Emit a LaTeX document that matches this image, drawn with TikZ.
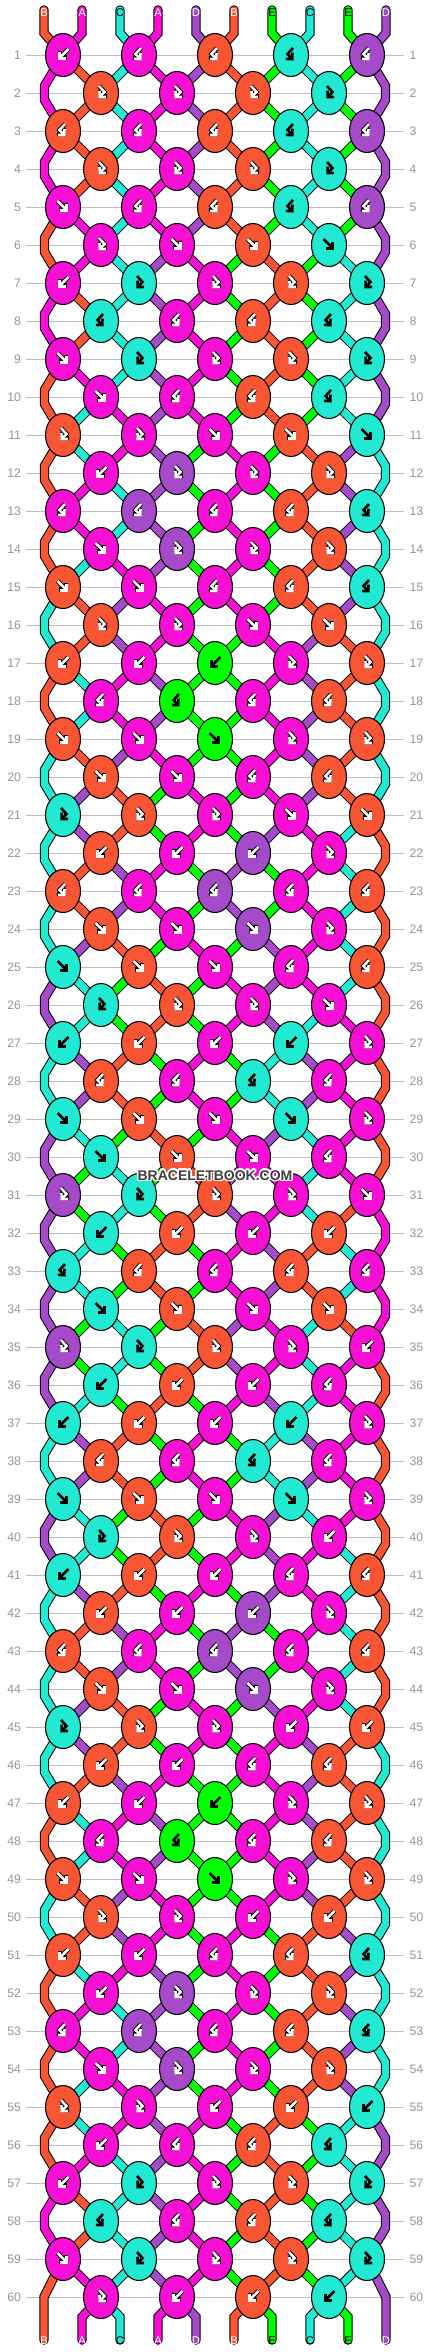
\documentclass[tikz,border=0pt]{standalone}
\usepackage{fontspec}
\setmainfont{Liberation Sans}
\usepackage[copies]{contour}
\usetikzlibrary{shapes.geometric,arrows.meta}

\definecolor{kno}{RGB}{247,85,51}
\definecolor{knm}{RGB}{247,15,213}
\definecolor{knc}{RGB}{34,234,210}
\definecolor{knp}{RGB}{165,74,200}
\definecolor{kng}{RGB}{0,255,0}
\definecolor{rowgray}{RGB}{190,190,190}
\definecolor{numgray}{RGB}{150,150,150}
\definecolor{markgray}{RGB}{64,64,64}

\newcommand\setst[2]{\expandafter\xdef\csname st@#1\endcsname{#2}}
\newcommand\getst[1]{\csname st@#1\endcsname}
\newcommand\seth[2]{\expandafter\xdef\csname hd@#1\endcsname{#2}}
\newcommand\geth[1]{\csname hd@#1\endcsname}

\tikzset{every picture/.style={line width=0.75pt}}
\tikzset{
  knot/.style={ellipse, draw=black, line width=0.8pt, minimum width=26.25pt, minimum height=32.25pt, inner sep=0pt},
  strand/.style={line width=5.6pt, line cap=round, preaction={draw=black, line width=7.1pt, line cap=round}},
  rowline/.style={draw=rowgray, line width=0.75pt, shorten <=3.4pt, shorten >=3.75pt},
  rownum/.style={text=numgray, font=\fontsize{9.2}{10}\selectfont, inner sep=0pt},
  endlabel/.style={font=\fontsize{8.4}{9}\selectfont, inner sep=0pt},
  arrw/.style={draw=white, line width=1.9pt, -{Straight Barb[length=3.4pt,width=6.8pt]}, preaction={draw=black, line width=3.3pt, -{Straight Barb[length=3.4pt,width=6.8pt]}}},
  arrb/.style={draw=black, line width=2pt, -{Straight Barb[length=3.4pt,width=6.8pt]}},
}

\begin{document}
\begin{tikzpicture}[x=0.75pt,y=0.75pt,yscale=-1,xscale=1]
    \useasboundingbox (0,0) rectangle (430,2352);
    \fill[white] (0,0) rectangle (430,2352);

    % row numbers, guide lines, edge bends
    \foreach \r in {1,...,60}{
      \node[rownum, anchor=east] (numl-\r) at (21.5,38*\r+17) {\r};
      \node[rownum, anchor=west] (numr-\r) at (409,38*\r+17) {\r};
      \draw[rowline] (numl-\r) -- (numr-\r);
      \ifodd\r\relax\else
        \coordinate (el-\r-a) at (44.5,38*\r+10);
        \coordinate (el-\r-b) at (44.5,38*\r+24);
        \coordinate (er-\r-a) at (385.5,38*\r+10);
        \coordinate (er-\r-b) at (385.5,38*\r+24);
      \fi
    }

    % string ends
    \foreach \s [count=\a] in {o,m,c,m,p,o,g,c,g,p}{
      \setst{\a}{\s}
      \coordinate (top-\a) at (6+38*\a,10);
      \coordinate (topbend-\a) at (6+38*\a,33);
      \coordinate (bot-\a) at (6+38*\a,2340);
    }
    \coordinate (botbend-1) at (44,2297);
    \coordinate (botbend-10) at (386,2297);
    \foreach \a in {2,...,9}{\coordinate (botbend-\a) at (6+38*\a,2317);}

    % strings, row by row: f forward, b backward, F forward-backward, B backward-forward
    \foreach \codes [count=\r] in {{b,B,B,B,B},{F,F,F,F},{B,B,B,B,B},{F,F,F,F},{f,B,B,B,B},{F,f,f,f},
      {b,F,F,F,F},{B,B,B,B},{f,F,F,F,F},{f,B,B,B},{F,F,f,f,f},{b,F,F,F},
      {B,B,B,B,B},{f,F,F,F},{f,f,B,B,B},{F,F,f,f},{b,b,b,F,F},{B,B,B,B},
      {f,f,f,F,F},{f,f,B,B},{F,F,F,f,f},{b,b,b,F},{B,B,B,B,B},{f,f,f,F},
      {f,f,f,B,B},{F,F,F,f},{b,b,b,b,F},{B,B,B,B},{f,f,f,f,F},{f,f,f,B},
      {F,F,F,F,f},{b,b,b,b},{B,B,B,B,B},{f,f,f,f},{F,F,F,F,b},{b,b,b,B},
      {b,b,b,b,F},{B,B,B,B},{f,f,f,f,F},{F,F,F,b},{b,b,b,B,B},{b,b,b,F},
      {B,B,B,B,B},{f,f,f,F},{F,F,F,b,b},{b,b,B,B},{b,b,b,F,F},{B,B,B,B},
      {f,f,f,F,F},{F,F,b,b},{b,b,B,B,B},{b,F,F,F},{B,B,B,B,B},{f,F,F,F},
      {F,F,b,b,b},{b,B,B,B},{b,F,F,F,F},{B,B,B,B},{f,F,F,F,F},{F,b,b,b}}{
      \foreach \kt [count=\j] in \codes {
        \ifodd\r\relax
          \pgfmathtruncatemacro\pa{2*\j-1}\pgfmathsetmacro\kx{76*\j-13}
        \else
          \pgfmathtruncatemacro\pa{2*\j}\pgfmathsetmacro\kx{76*\j+25}
        \fi
        \pgfmathtruncatemacro\pb{\pa+1}
        \coordinate (c\r-\j) at (\kx,38*\r+17);
        \edef\clc{\getst{\pa}}\edef\crc{\getst{\pb}}
        \edef\kc{\if\kt f\clc\else\if\kt F\clc\else\crc\fi\fi}
        \edef\sw{\if\kt f1\else\if\kt b1\else0\fi\fi}
        \expandafter\xdef\csname kc@\r-\j\endcsname{\kc}
        \expandafter\xdef\csname kt@\r-\j\endcsname{\kt}
        \edef\tmp{\noexpand\colorlet{lcol}{kn\clc}\noexpand\colorlet{rcol}{kn\crc}}\tmp
        \ifnum\r=1
          \draw[strand, draw=lcol] (top-\pa) -- (topbend-\pa) -- (c\r-\j);
          \draw[strand, draw=rcol] (top-\pb) -- (topbend-\pb) -- (c\r-\j);
        \else
          \pgfmathtruncatemacro\rprev{\r-1}
          \edef\srcl{\geth{\pa}}\edef\srcr{\geth{\pb}}
          \ifnum\pa=1
            \draw[strand, draw=lcol] (\srcl) -- (el-\rprev-a) -- (el-\rprev-b) -- (c\r-\j);
          \else
            \draw[strand, draw=lcol] (\srcl) -- (c\r-\j);
          \fi
          \ifnum\pb=10
            \draw[strand, draw=rcol] (\srcr) -- (er-\rprev-a) -- (er-\rprev-b) -- (c\r-\j);
          \else
            \draw[strand, draw=rcol] (\srcr) -- (c\r-\j);
          \fi
        \fi
        \seth{\pa}{c\r-\j}\seth{\pb}{c\r-\j}
        \ifnum\sw=1 \setst{\pa}{\crc}\setst{\pb}{\clc}\fi
      }
    }

    % strings leaving the last row
    \foreach \a in {1,...,10}{
      \edef\src{\geth{\a}}
      \edef\tmp{\noexpand\colorlet{bcol}{kn\getst{\a}}}\tmp
      \draw[strand, draw=bcol] (\src) -- (botbend-\a) -- (bot-\a);
    }

    % letters on the string ends
    \foreach \lab/\tc [count=\a] in {B/white,A/white,C/black,A/white,D/white,B/white,E/black,C/black,E/black,D/white}{
      \node[endlabel, text=\tc] (labt-\a) at (6+38*\a,12.5) {\lab};
      \node[endlabel, text=\tc] (labb-\a) at (6+38*\a,2341) {\lab};
    }

    % knots on top of the strings
    \foreach \r in {1,...,60}{
      \ifodd\r\relax\def\nk{5}\else\def\nk{4}\fi
      \foreach \j in {1,...,\nk}{
        \edef\kc{\csname kc@\r-\j\endcsname}
        \edef\kt{\csname kt@\r-\j\endcsname}
        \edef\blk{\if\kc c1\else\if\kc g1\else0\fi\fi}
        \edef\tmp{\noexpand\colorlet{kcol}{kn\kc}}\tmp
        \node[knot, fill=kcol] (k\r-\j) at (c\r-\j) {};
        \if\kt f\def\gp{(-5.5,-6) -- (5,4.5)}\fi
        \if\kt b\def\gp{(5.5,-6) -- (-5,4.5)}\fi
        \if\kt F\def\gp{(-2,-7) -- (3.5,-1) -- (-2.5,5.5)}\fi
        \if\kt B\def\gp{(2,-7) -- (-3.5,-1) -- (2.5,5.5)}\fi
        \begin{scope}[shift={(k\r-\j.center)}]
          \ifnum\blk=1 \draw[arrb] \gp; \else \draw[arrw] \gp; \fi
        \end{scope}
      }
    }

    % Text Node
    \contourlength{1.1pt}
    \node[text=markgray, font=\bfseries\fontsize{10.5}{12}\selectfont, inner sep=0pt] (mark) at (215,1176) {\contour{white}{BRACELETBOOK.COM}};

\end{tikzpicture}
\end{document}
